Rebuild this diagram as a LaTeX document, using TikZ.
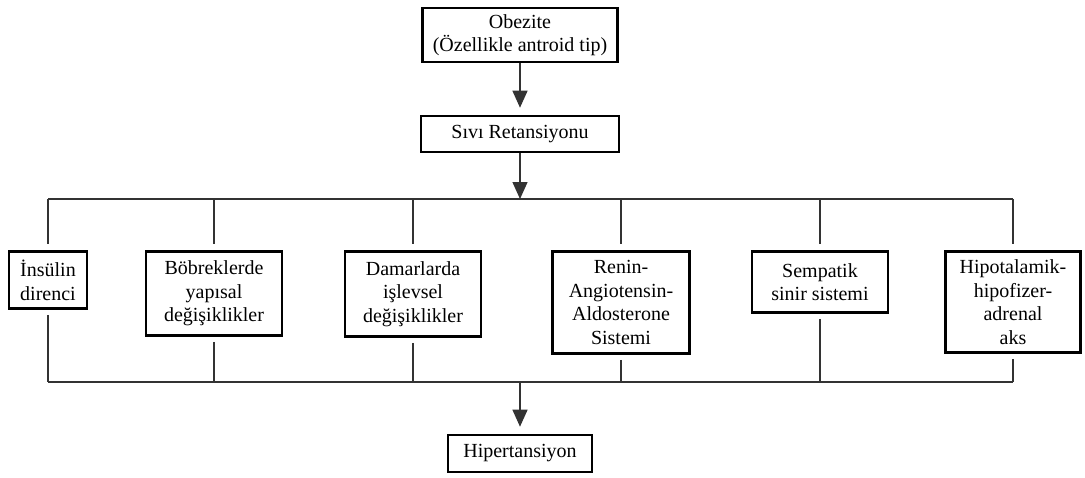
\documentclass[tikz,border=0pt]{standalone}
\usepackage{fontspec}
\setmainfont{Liberation Serif}
\usetikzlibrary{arrows.meta, positioning}

\begin{document}
\begin{tikzpicture}[x=1pt, y=-1pt, >={Triangle[width=15pt,length=17pt]}]
    \tikzstyle{state} = [draw, line width=2.6pt, text centered, align=center, inner sep=2pt, font=\fontsize{20}{23.5}\selectfont]
    \tikzstyle{link} = [draw=black!80, line width=1.3pt]
    \useasboundingbox (0,0) rectangle (1085,477);
    \node [state, minimum width=195pt, minimum height=54pt] at (520,35) (obez) {Obezite\\(Özellikle antroid tip)};
    \node [state, minimum width=198pt, minimum height=36pt] at (520,134) (sivi) {Sıvı Retansiyonu};
    \coordinate (bustop) at (520,199);
    \coordinate (busbot) at (520,382);
    \node [state, anchor=north, minimum width=78pt, minimum height=57pt] at (48,250.3) (insulin) {İnsülin\\direnci};
    \node [state, anchor=north, minimum width=136pt, minimum height=84pt] at (214,250.3) (bobrek) {Böbreklerde\\yapısal\\değişiklikler};
    \node [state, anchor=north, minimum width=136pt, minimum height=85pt] at (413,250.3) (damar) {Damarlarda\\işlevsel\\değişiklikler};
    \node [state, anchor=north, minimum width=137pt, minimum height=102pt] at (621,250.3) (renin) {Renin-\\Angiotensin-\\Aldosterone\\Sistemi};
    \node [state, anchor=north, minimum width=136pt, minimum height=61pt] at (820,250.3) (sempatik) {Sempatik\\sinir sistemi};
    \node [state, anchor=north, minimum width=135pt, minimum height=101pt] at (1013,250.3) (hipo) {Hipotalamik-\\hipofizer-\\adrenal\\aks};
    \node [state, minimum width=144pt, minimum height=37pt] at (520,453.5) (hiper) {Hipertansiyon};
    % ust ve alt baglanti cizgileri
    \draw [link] (insulin.north |- bustop) -- (hipo.north |- bustop);
    \draw [link] (insulin.south |- busbot) -- (hipo.south |- busbot);
    \draw [link, ->, shorten >=7pt] (obez.south) -- (sivi.north);
    \draw [link, ->] (sivi.south) -- (sivi.south |- bustop);
    \draw [link, shorten >=6pt] (insulin.north |- bustop) -- (insulin.north);
    \draw [link, shorten >=6pt] (bobrek.north |- bustop) -- (bobrek.north);
    \draw [link, shorten >=6pt] (damar.north |- bustop) -- (damar.north);
    \draw [link, shorten >=6pt] (renin.north |- bustop) -- (renin.north);
    \draw [link, shorten >=6pt] (sempatik.north |- bustop) -- (sempatik.north);
    \draw [link, shorten >=6pt] (hipo.north |- bustop) -- (hipo.north);
    \draw [link, shorten <=5pt] (insulin.south) -- (insulin.south |- busbot);
    \draw [link, shorten <=5pt] (bobrek.south) -- (bobrek.south |- busbot);
    \draw [link, shorten <=5pt] (damar.south) -- (damar.south |- busbot);
    \draw [link, shorten <=5pt] (renin.south) -- (renin.south |- busbot);
    \draw [link, shorten <=5pt] (sempatik.south) -- (sempatik.south |- busbot);
    \draw [link, shorten <=5pt] (hipo.south) -- (hipo.south |- busbot);
    \draw [link, ->, shorten >=7pt] (hiper.north |- busbot) -- (hiper.north);
\end{tikzpicture}
\end{document}
